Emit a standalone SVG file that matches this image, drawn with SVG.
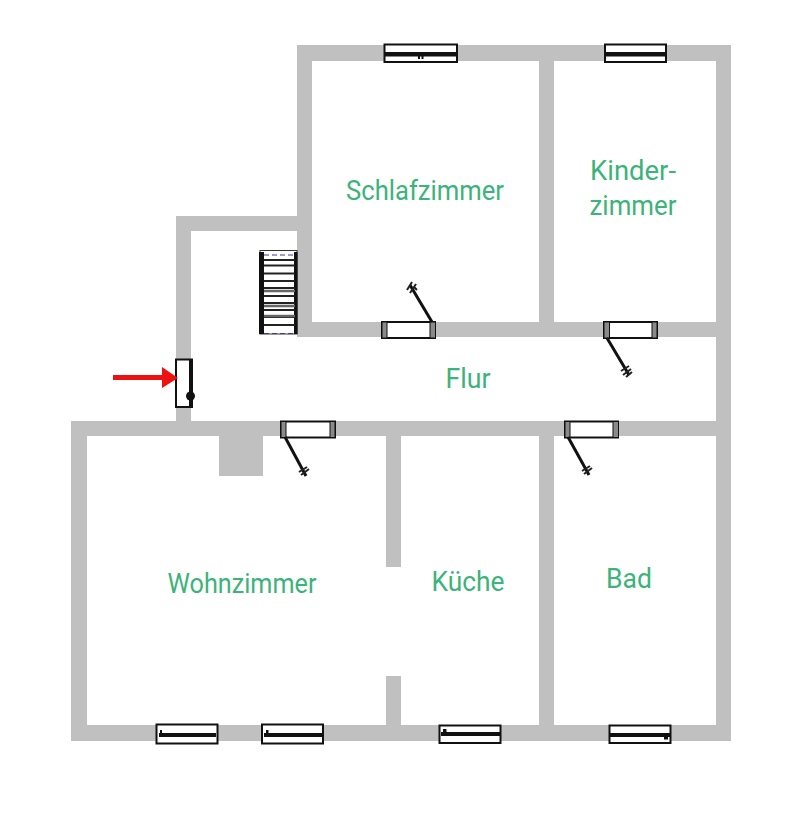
<svg xmlns="http://www.w3.org/2000/svg" width="800" height="813" viewBox="0 0 800 813">
<style>
.wall{fill:#c0c0c0}
.frame{fill:#fff;stroke:#111;stroke-width:2}
.bar{fill:#111}
.jamb{fill:#8a8a8a;stroke:#111;stroke-width:1}
.leaf{fill:none;stroke:#111;stroke-width:3}
.tick{fill:none;stroke:#222;stroke-width:2}
.label{font-family:Roboto,"Liberation Sans",sans-serif;font-size:27px;fill:#3cb37a;text-anchor:middle}
</style>
<rect width="800" height="813" fill="#fff"/>
<g id="walls">
<rect class="wall" x="297" y="45" width="434" height="16"/>
<rect class="wall" x="297" y="45" width="15" height="292"/>
<rect class="wall" x="539" y="45" width="15" height="292"/>
<rect class="wall" x="716" y="45" width="15" height="696"/>
<rect class="wall" x="297" y="322" width="434" height="15"/>
<rect class="wall" x="176" y="216" width="121" height="15"/>
<rect class="wall" x="176" y="216" width="15" height="205"/>
<rect class="wall" x="71" y="421" width="660" height="15"/>
<rect class="wall" x="71" y="421" width="16" height="320"/>
<rect class="wall" x="71" y="725" width="660" height="16"/>
<rect class="wall" x="539" y="421" width="15" height="320"/>
<rect class="wall" x="386" y="421" width="15" height="146"/>
<rect class="wall" x="386" y="676" width="15" height="65"/>
<rect class="wall" x="219" y="436" width="44" height="40"/>
</g>
<g id="stairs">
<rect x="260" y="250.500" width="37" height="83.500" fill="#fff" stroke="#333" stroke-width="1"/>
<rect class="bar" x="259" y="252" width="5" height="82"/>
<rect class="bar" x="294" y="252" width="3.500" height="82"/>
<path d="M264 255H295M264 333.500H295" fill="none" stroke="#3a3aa8" stroke-width="1.200" stroke-dasharray="5 3"/>
<path d="M264 260H295M264 265.500H295M264 273.500H295M264 281H295M264 288H295M264 296H295M264 303H295M264 310H295M264 317H295M264 325H295" fill="none" stroke="#222" stroke-width="2.200"/>
<path d="M264 291H295M264 306H295M264 316H295" fill="none" stroke="#666" stroke-width="2.500"/>
</g>
<g id="window-top-1">
<rect class="frame" x="384.500" y="44.500" width="72.500" height="17.500"/>
<rect class="bar" x="385" y="52" width="72" height="4.500"/>
<rect class="bar" x="418" y="56" width="2" height="3"/><rect class="bar" x="421.500" y="56" width="2" height="3"/>
</g>
<g id="window-top-2">
<rect class="frame" x="605" y="44.500" width="61" height="17.500"/>
<rect class="bar" x="605" y="52" width="61" height="4.500"/>
</g>
<g id="window-bottom-1">
<rect class="frame" x="156.500" y="724.500" width="61" height="19"/>
<rect class="bar" x="159" y="733" width="57" height="4"/>
<rect class="bar" x="160" y="730" width="2" height="4"/>
</g>
<g id="window-bottom-2">
<rect class="frame" x="262" y="724.500" width="61" height="19"/>
<rect class="bar" x="264" y="733" width="58" height="4"/>
<rect class="bar" x="266" y="730" width="2.500" height="4"/>
</g>
<g id="window-bottom-3">
<rect class="frame" x="439.500" y="725.500" width="61" height="17.500"/>
<rect class="bar" x="441" y="732" width="59" height="4"/>
<rect class="bar" x="443" y="729" width="3.500" height="4"/>
</g>
<g id="window-bottom-4">
<rect class="frame" x="609.500" y="725.500" width="61" height="17.500"/>
<rect class="bar" x="610" y="733" width="60" height="4"/>
<rect class="bar" x="664" y="736" width="4" height="3.500"/>
</g>
<g id="door-schlafzimmer">
<rect class="frame" x="382" y="322" width="53" height="16"/>
<rect class="jamb" x="382" y="322" width="5" height="16"/>
<rect class="jamb" x="430" y="322" width="5.500" height="16"/>
<path class="leaf" d="M432 322L410 285"/>
<path class="tick" d="M407 290L412 282M410 293L416 284M414 287L417 290"/>
</g>
<g id="door-kinderzimmer">
<rect class="frame" x="604" y="322" width="53" height="16"/>
<rect class="jamb" x="604" y="322" width="5.500" height="16"/>
<rect class="jamb" x="652" y="322" width="5" height="16"/>
<path class="leaf" d="M607 338L629 375"/>
<path class="tick" d="M621 371L629 366M623 375L631 369M626 377L632 372"/>
</g>
<g id="door-wohnzimmer">
<rect class="frame" x="281" y="421.500" width="54" height="16"/>
<rect class="jamb" x="281" y="421.500" width="5" height="16"/>
<rect class="jamb" x="330" y="421.500" width="5" height="16"/>
<path class="leaf" d="M285 437L306 476"/>
<path class="tick" d="M299 472L307 467M301 475L309 469"/>
</g>
<g id="door-bad">
<rect class="frame" x="565" y="421.500" width="53" height="16"/>
<rect class="jamb" x="565" y="421.500" width="5" height="16"/>
<rect class="jamb" x="613" y="421.500" width="5.500" height="16"/>
<path class="leaf" d="M568 437L589 475"/>
<path class="tick" d="M582 471L590 466M584 474L592 468"/>
</g>
<g id="entry-door">
<rect class="frame" x="176" y="359.500" width="16" height="47.500" stroke-width="1.500"/>
<rect class="bar" x="189" y="359" width="4" height="48"/>
<circle class="bar" cx="190.500" cy="396" r="4.500"/>
</g>
<g id="connectors">
<path d="M113 375H162V367L178 378L162 388V380H113Z" fill="#ee1111"/>
</g>
<g id="room-schlafzimmer"><text class="label" x="425" y="200" textLength="158" lengthAdjust="spacingAndGlyphs">Schlafzimmer</text></g>
<g id="room-kinderzimmer"><text class="label" x="633" y="180" textLength="86" lengthAdjust="spacingAndGlyphs">Kinder-</text><text class="label" x="633" y="215" textLength="87" lengthAdjust="spacingAndGlyphs">zimmer</text></g>
<g id="room-flur"><text class="label" x="468" y="388" textLength="45" lengthAdjust="spacingAndGlyphs">Flur</text></g>
<g id="room-wohnzimmer"><text class="label" x="242" y="593" textLength="149" lengthAdjust="spacingAndGlyphs">Wohnzimmer</text></g>
<g id="room-kueche"><text class="label" x="468" y="591" textLength="73" lengthAdjust="spacingAndGlyphs">Küche</text></g>
<g id="room-bad"><text class="label" x="629" y="588" textLength="46" lengthAdjust="spacingAndGlyphs">Bad</text></g>
</svg>
